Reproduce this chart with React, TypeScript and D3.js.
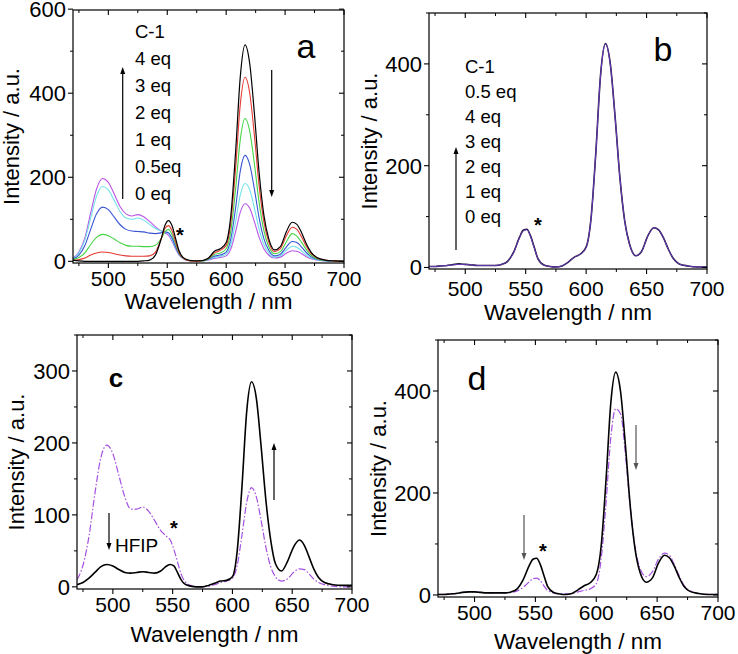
import React from 'react';
import * as d3 from 'd3';

const wavelengths = [470,475,480,485,490,495,500,505,510,515,520,525,530,535,540,545,548,551,554,557,560,565,570,575,580,585,590,595,600,604,608,612,616,620,624,628,632,636,641,646,651,656,660,664,668,672,677,684,692,700];

const aBlack = [3,1,0,0,0,0,0,0,0,0,0,0,1,3,15,55, 85,97,85,55, 25,6,2,1,2,8,24,30,45, 110,260,440,515,470,350,210,110,55, 27,35,70,93,88,68,42,22,9, 3,1,0];
const aRed = [2,4,8,15,20,22,21,18,15,13,12,12,12,13,22,55, 78,85,73,47, 21,5,1,0,2,7,20,26,38, 94,221,374,438,400,298,179,94,47, 23,30,60,81,76,58,36,19,8, 3,1,0];
const aGreen = [4,9,20,40,57,64,61,53,44,38,36,36,35,35,38,55, 70,76,64,42, 19,5,1,0,1,6,16,20,30, 73,172,290,340,310,231,139,73,36, 18,23,46,66,60,45,28,15,6, 2,1,0];
const aBlue = [6,15,37,76,113,129,123,105,87,76,72,71,70,67,66,68, 70,68,56,36, 17,5,1,0,1,5,12,15,22, 54,127,215,252,230,171,103,54,27, 13,17,34,47,45,34,21,11,5, 2,0,0];
const aCyan = [7,20,50,103,155,178,170,145,118,103,100,103,98,88,78,72, 70,66,52,33, 16,5,1,0,1,4,9,12,17, 40,94,158,185,170,126,76,40,20, 10,13,26,36,33,25,15,8,4, 1,0,0];
const aMagenta = [8,22,55,115,172,197,188,160,130,113,108,111,106,95,82,72, 68,62,48,30, 15,4,1,0,1,3,7,9,13, 30,70,117,137,126,94,57,30,15, 8,10,19,25,24,18,11,6,3, 1,0,0];

const bBlack = [2,2,3,4,6,7,6,5,4,4,4,4,6,12,30,60, 73,75,62,40, 18,5,2,1,3,10,20,26,40, 95,225,380,440,400,295,175,90,45, 23,32,62,78,74,58,36,18,7, 3,1,1];
const bPurple = [2,2,3,4,5,6,6,5,4,4,4,4,6,12,29,59, 72,74,61,39, 18,5,2,1,3,10,20,26,40, 95,224,379,439,399,294,175,90,45, 23,32,62,78,74,58,36,18,7, 3,1,1];

const cPurple = [10,30,70,130,180,197,185,155,125,108,108,111,105,92,78,70, 65,52,35,18, 8,2,0,0,1,3,6,8,12, 30,72,118,138,125,92,55,28,14, 8,11,20,25,24,18,11,6,3, 1,0,0];
const cBlack = [3,6,12,20,28,31,29,24,20,19,20,21,20,19,22,29, 31,29,20,10, 4,1,0,0,2,5,8,9,14, 50,140,245,285,262,195,120,65,32, 22,35,55,65,58,42,25,13,6, 3,2,2];

const dBlack = [1,1,2,3,5,6,6,5,4,4,4,4,6,12,30,58, 70,72,60,38, 17,5,2,1,3,10,18,24,40, 95,225,378,437,398,292,172,88,44, 25,33,62,78,73,57,35,17,7, 3,1,1];
const dPurple = [1,1,2,3,5,6,6,5,4,4,4,4,5,8,15,26, 32,33,28,18, 9,4,2,2,3,6,9,12,22, 70,180,310,365,355,275,170,92,52, 36,45,70,82,78,60,38,19,8, 3,1,1];

const xTicks = [500, 550, 600, 650, 700];
const xMinor = [475, 525, 575, 625, 675];
const legendA = ['C-1', '4 eq', '3 eq', '2 eq', '1 eq', '0.5eq', '0 eq'];
const legendB = ['C-1', '0.5 eq', '4 eq', '3 eq', '2 eq', '1 eq', '0 eq'];

const FONT = 'Liberation Sans, Arial, Helvetica, sans-serif';

type S = { v: number[]; color: string; w: number; dash?: string };

type PanelProps = {
  left: number; right: number; top: number; bottom: number;
  yMin: number; yMax: number; yMajor: number[]; yMinor: number[];
  series: S[]; tickDy: number; titleDy: number; yTitleX: number;
  children?: React.ReactNode;
};

function Panel(p: PanelProps) {
  const x = d3.scaleLinear().domain([470, 700]).range([p.left, p.right]);
  const y = d3.scaleLinear().domain([p.yMin, p.yMax]).range([p.bottom, p.top]);
  const line = (vals: number[]) =>
    d3.line<number>().x((_, i) => x(wavelengths[i])).y((d) => y(d)).curve(d3.curveMonotoneX)(vals) || '';
  const id = `clip${p.left}${p.top}`;
  const cy = (p.top + p.bottom) / 2;
  return (
    <g>
      <defs>
        <clipPath id={id}>
          <rect x={p.left} y={p.top} width={p.right - p.left} height={p.bottom - p.top} />
        </clipPath>
      </defs>
      <g clipPath={`url(#${id})`}>
        {p.series.map((s, i) => (
          <path key={i} d={line(s.v)} fill="none" stroke={s.color} strokeWidth={s.w} strokeDasharray={s.dash} />
        ))}
      </g>
      <rect x={p.left} y={p.top} width={p.right - p.left} height={p.bottom - p.top} fill="none" stroke="#000" strokeWidth={1.2} />
      {xTicks.map((t) => (
        <g key={'xt' + t}>
          <line x1={x(t)} x2={x(t)} y1={p.bottom} y2={p.bottom + 5} stroke="#000" strokeWidth={1.1} />
          <line x1={x(t)} x2={x(t)} y1={p.top} y2={p.top + 5} stroke="#000" strokeWidth={1.1} />
          <text x={x(t)} y={p.bottom + p.tickDy} textAnchor="middle" fontSize={21} fontFamily={FONT}>{t}</text>
        </g>
      ))}
      {xMinor.map((t) => (
        <g key={'xm' + t}>
          <line x1={x(t)} x2={x(t)} y1={p.bottom} y2={p.bottom + 3} stroke="#000" strokeWidth={1} />
          <line x1={x(t)} x2={x(t)} y1={p.top} y2={p.top + 3} stroke="#000" strokeWidth={1} />
        </g>
      ))}
      {p.yMajor.map((t) => (
        <g key={'yt' + t}>
          <line x1={p.left - 5} x2={p.left} y1={y(t)} y2={y(t)} stroke="#000" strokeWidth={1.1} />
          <line x1={p.right - 5} x2={p.right} y1={y(t)} y2={y(t)} stroke="#000" strokeWidth={1.1} />
          <text x={p.left - 7} y={y(t)} dy="0.36em" textAnchor="end" fontSize={22} fontFamily={FONT}>{t}</text>
        </g>
      ))}
      {p.yMinor.map((t) => (
        <g key={'ym' + t}>
          <line x1={p.left - 3} x2={p.left} y1={y(t)} y2={y(t)} stroke="#000" strokeWidth={1} />
          <line x1={p.right - 3} x2={p.right} y1={y(t)} y2={y(t)} stroke="#000" strokeWidth={1} />
        </g>
      ))}
      <text x={(p.left + p.right) / 2} y={p.bottom + p.titleDy} textAnchor="middle" fontSize={22.5} fontFamily={FONT}>Wavelength / nm</text>
      <text transform={`translate(${p.yTitleX},${cy}) rotate(-90)`} textAnchor="middle" fontSize={22} fontFamily={FONT}>Intensity / a.u.</text>
      {p.children}
    </g>
  );
}

function Arrow({ x, y1, y2, color = '#000' }: { x: number; y1: number; y2: number; color?: string }) {
  const dir = y2 > y1 ? 1 : -1;
  return (
    <g>
      <line x1={x} x2={x} y1={y1} y2={y2 - dir * 4} stroke={color} strokeWidth={1.2} />
      <path d={`M${x - 2.5},${y2 - dir * 7} L${x},${y2} L${x + 2.5},${y2 - dir * 7} Z`} fill={color} />
    </g>
  );
}

export default function App() {
  return (
    <svg width={738} height={654} style={{ position: 'absolute', left: 0, top: 0, background: '#fff' }}>
      <rect width={738} height={654} fill="#fff" />
      <Panel left={73} right={344} top={10} bottom={263} yMin={-4} yMax={598}
        yMajor={[0, 200, 400, 600]} yMinor={[100, 300, 500]}
        series={[
          { v: aMagenta, color: '#bb55e6', w: 1.1 },
          { v: aCyan, color: '#6fe2ea', w: 1.1 },
          { v: aBlue, color: '#3a55d4', w: 1.1 },
          { v: aGreen, color: '#45d445', w: 1.1 },
          { v: aRed, color: '#e53a32', w: 1.1 },
          { v: aBlack, color: '#000', w: 1.2 },
        ]}
        tickDy={23} titleDy={46} yTitleX={19}>
        {legendA.map((t, i) => (
          <text key={t} x={135} y={38 + i * 27} fontSize={18.5} fontFamily={FONT}>{t}</text>
        ))}
        <text x={306} y={58} textAnchor="middle" fontSize={34} fontFamily={FONT}>a</text>
        <text x={180} y={242} textAnchor="middle" fontSize={20} fontWeight="bold" fontFamily={FONT}>*</text>
        <Arrow x={122.7} y1={199} y2={67} />
        <Arrow x={271.7} y1={70} y2={197} />
      </Panel>
      <Panel left={429} right={707} top={13} bottom={269} yMin={-3} yMax={500}
        yMajor={[0, 200, 400]} yMinor={[100, 300, 500]}
        series={[
          { v: bBlack, color: '#1a1030', w: 1.6 },
          { v: bPurple, color: '#6a3cc0', w: 1.0 },
        ]}
        tickDy={27} titleDy={51} yTitleX={377}>
        {legendB.map((t, i) => (
          <text key={t} x={465} y={73 + i * 25} fontSize={18.5} fontFamily={FONT}>{t}</text>
        ))}
        <text x={663} y={61} textAnchor="middle" fontSize={34} fontFamily={FONT}>b</text>
        <text x={538} y={232} textAnchor="middle" fontSize={20} fontWeight="bold" fontFamily={FONT}>*</text>
        <Arrow x={456} y1={250} y2={147} />
      </Panel>
      <Panel left={77} right={352} top={335} bottom={589} yMin={-3} yMax={350}
        yMajor={[0, 100, 200, 300]} yMinor={[50, 150, 250, 350]}
        series={[
          { v: cPurple, color: '#a650e0', w: 1.2, dash: '7,2,1.5,2' },
          { v: cBlack, color: '#000', w: 1.6 },
        ]}
        tickDy={23} titleDy={53} yTitleX={24}>
        <text x={116} y={387} textAnchor="middle" fontSize={26} fontWeight="bold" fontFamily={FONT}>c</text>
        <text x={115} y={552} fontSize={19} fontFamily={FONT}>HFIP</text>
        <text x={174} y={535} textAnchor="middle" fontSize={20} fontWeight="bold" fontFamily={FONT}>*</text>
        <Arrow x={109} y1={513} y2={550} />
        <Arrow x={274} y1={500} y2={443} />
      </Panel>
      <Panel left={438} right={718} top={340} bottom={597} yMin={-4} yMax={500}
        yMajor={[0, 200, 400]} yMinor={[100, 300, 500]}
        series={[
          { v: dPurple, color: '#a650e0', w: 1.2, dash: '7,2,1.5,2' },
          { v: dBlack, color: '#000', w: 1.6 },
        ]}
        tickDy={23} titleDy={52} yTitleX={386}>
        <text x={477} y={390} textAnchor="middle" fontSize={34} fontFamily={FONT}>d</text>
        <text x={543} y={558} textAnchor="middle" fontSize={20} fontWeight="bold" fontFamily={FONT}>*</text>
        <Arrow x={524} y1={515} y2={560} color="#555" />
        <Arrow x={636} y1={425} y2={470} color="#555" />
      </Panel>
    </svg>
  );
}
